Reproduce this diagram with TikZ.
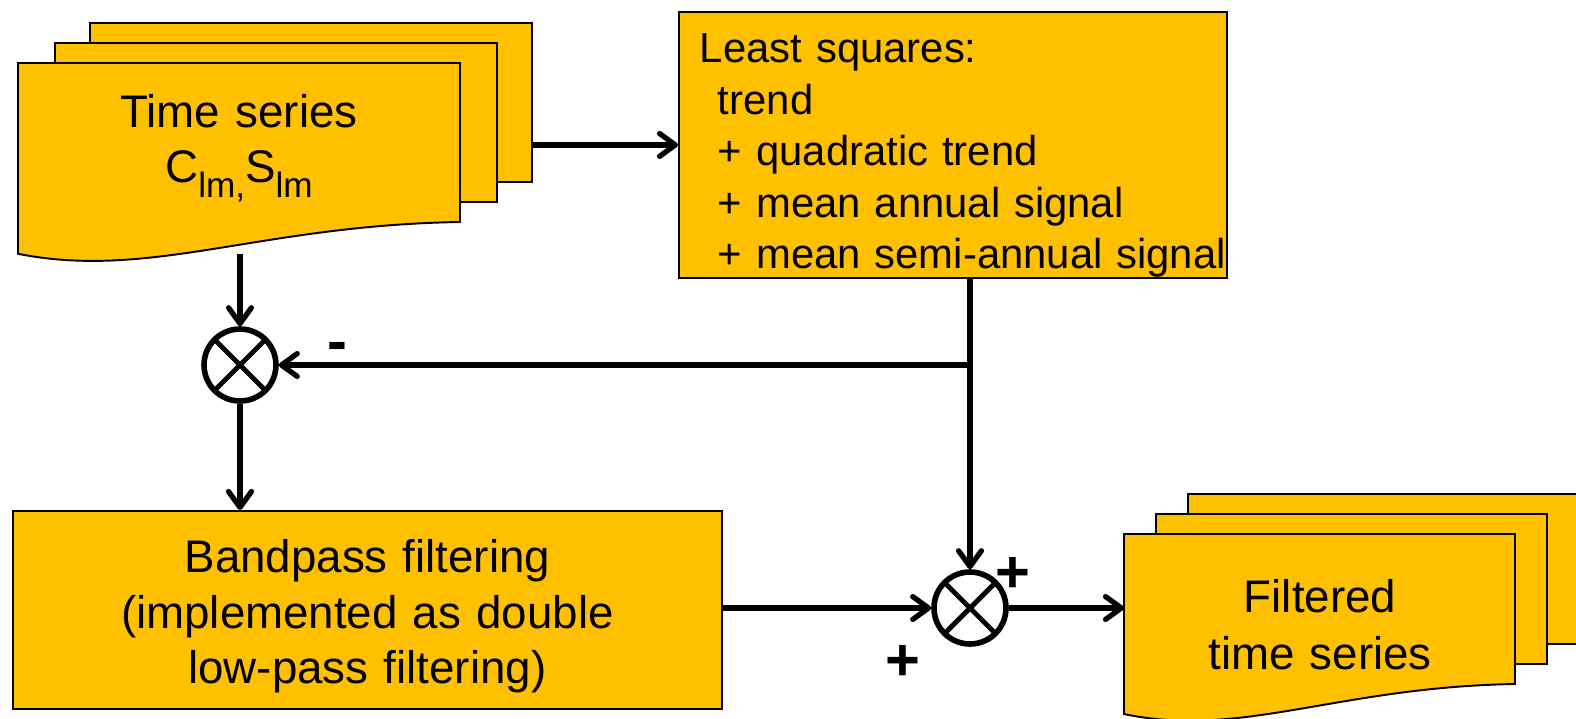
\documentclass[tikz,border=0pt]{standalone}
\usepackage{fontspec}
\setmainfont{Liberation Sans}
\usetikzlibrary{arrows.meta}
\definecolor{gold}{HTML}{FFC000}
\newcommand{\lowsub}[1]{\raisebox{-0.3cm}{\fontsize{20pt}{20pt}\selectfont #1}}
\newcommand{\lsfirst}{\hspace*{0.42cm}}
\newcommand{\lsind}{\hspace*{0.78cm}}
\tikzset{
    page/.style={fill=gold, draw=black, line width=1.1pt},
    block/.style={page, anchor=north west, inner sep=0pt},
    arr/.style={-{Straight Barb[length=9pt,width=13pt,round]}, line width=3pt},
    sign/.style={font=\bfseries\fontsize{34pt}{34pt}\selectfont, inner sep=0pt},
    mixer/.style={circle, draw, line width=3.2pt, fill=white, minimum size=1.44cm, inner sep=0pt,
      path picture={\draw[line width=2.8pt]
        (path picture bounding box.north west) -- (path picture bounding box.south east)
        (path picture bounding box.south west) -- (path picture bounding box.north east);}},
    pics/docstack/.style 2 args={code={
      \draw[page] ({0.163*#1},-40) rectangle ++(#1,#2);
      \draw[page] ({0.083*#1},-20) rectangle ++(#1,#2);
      \draw[page] (0,0) -- (#1,0) -- (#1,#2)
        .. controls ({0.545*#1},{1.02*#2}) and ({0.3*#1},{1.365*#2}) .. (0,{1.2*#2}) -- cycle;
      \coordinate (-right) at ({1.163*#1},{#2/2-40});
      \coordinate (-left) at (0,{#2/2});
      \coordinate (-bottom) at ({#1/2},{1.2*#2});
    }},
  }

\begin{document}
\begin{tikzpicture}[x=0.02cm,y=-0.02cm]
  \useasboundingbox (0,0) rectangle (1576,718);
  %stacks of pages
  \pic (src) at (18,63) {docstack={442}{159}};
  \pic (dst) at (1124,534) {docstack={391}{150}};
  \node[anchor=base, align=center, text width=8.84cm, inner sep=0pt,
        font=\fontsize{26pt}{31.7pt}\selectfont] (ts) at (239,127)
        {Time series\\C\lowsub{lm,}S\lowsub{lm}};
  \node[anchor=base, align=center, text width=7.82cm, inner sep=0pt,
        font=\fontsize{26pt}{33pt}\selectfont] (fts) at (1320,612)
        {Filtered\\time series};

  %boxes
  \node[block, align=left, text width=10.96cm,
        text height=1.02cm, text depth=4.3cm,
        font=\fontsize{23.8pt}{1.03cm}\selectfont] (ls) at (678,11)
        {\lsfirst Least squares:\\\lsind trend\\\lsind + quadratic trend\\\lsind + mean annual signal\\\lsind + mean semi-annual signal};
  \node[block, align=center, text width=14.18cm,
        text height=1.24cm, text depth=2.72cm,
        font=\fontsize{26pt}{1.11cm}\selectfont] (bp) at (12,510)
        {Bandpass filtering\\(implemented as double\\low-pass filtering)};

  %mixers
  \node[mixer] (m1) at (240,365) {};
  \node[mixer] (m2) at (970,608) {};
  \coordinate (j) at (m2 |- m1);

  \node[sign] (minus) at (337,352) {-};
  \node[sign] (plusa) at (1013,575) {+};
  \node[sign] (plusb) at (903,663) {+};

  \draw[arr] (src-right |- ls.west) -- (ls.west);
  \draw[arr] (src-bottom -| m1) -- (m1);
  \draw[line width=3pt] (ls.south -| m2) -- (j);
  \draw[arr] (j) -- (m2);
  \draw[arr] (j) -- (m1);
  \draw[arr] (m1) -- (m1 |- bp.north);
  \draw[arr] (bp.east |- m2) -- (m2);
  \draw[arr] (m2) -- (dst-left |- m2);
\end{tikzpicture}
\end{document}
